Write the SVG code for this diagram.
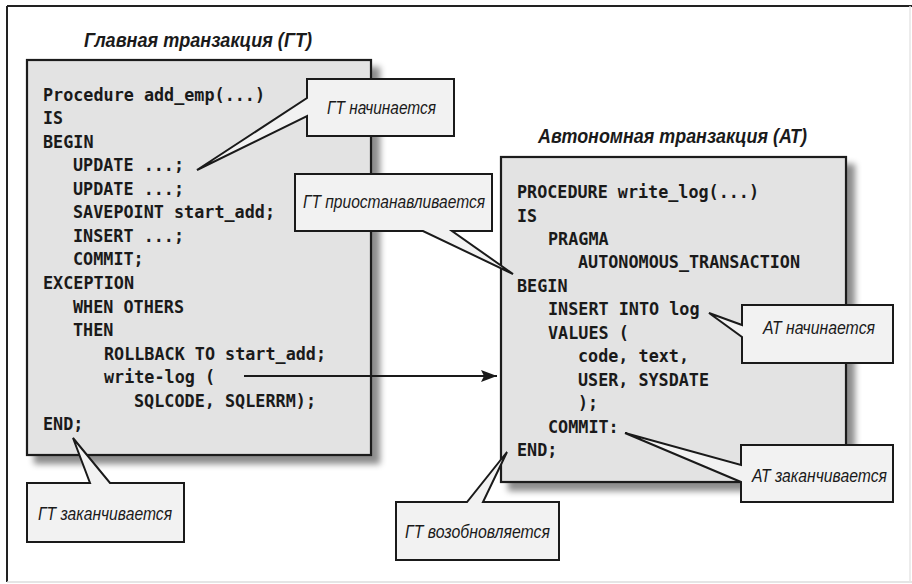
<svg xmlns="http://www.w3.org/2000/svg" width="912" height="584" viewBox="0 0 912 584">
<style>
.title{font-family:"Liberation Sans","DejaVu Sans",sans-serif;font-weight:bold;font-style:italic;font-size:20px;fill:#1a1a1a}
.code{font-family:"DejaVu Sans Mono","Liberation Mono",monospace;font-weight:bold;font-size:18px;fill:#1a1a1a}
.box{fill:#e3e3e3;stroke:#1a1a1a;stroke-width:2.2}
.call{fill:#f2f2f2;stroke:#1a1a1a;stroke-width:2;stroke-linejoin:miter}
.ctext{font-family:"Liberation Sans","DejaVu Sans",sans-serif;font-style:italic;font-size:18px;fill:#1a1a1a}
.conn{stroke:#1a1a1a;stroke-width:2;fill:none}
</style>
<defs>
<filter id="sh" x="-10%" y="-10%" width="130%" height="130%">
<feDropShadow dx="8" dy="8" stdDeviation="3" flood-color="#000" flood-opacity="0.45"/>
</filter>
<marker id="arr" viewBox="0 0 16 12" refX="16" refY="6" markerWidth="16" markerHeight="12" markerUnits="userSpaceOnUse" orient="auto">
<path d="M0,0 L16,6 L0,12 L3,6 Z" fill="#1a1a1a"/>
</marker>
</defs>
<rect width="912" height="584" fill="#ffffff"/>
<g id="frame">
<line x1="7" y1="6" x2="912" y2="6" stroke="#222" stroke-width="2"/>
<line x1="7" y1="6" x2="7" y2="582" stroke="#222" stroke-width="2"/>
<line x1="7" y1="582" x2="912" y2="582" stroke="#ddd" stroke-width="1.5"/>
<line x1="910" y1="6" x2="910" y2="582" stroke="#e6e6e6" stroke-width="1.5"/>
</g>

<g id="main-tx">
<text class="title" x="84" y="47" textLength="228" lengthAdjust="spacingAndGlyphs">Главная транзакция (ГТ)</text>
<rect class="box" x="27" y="60" width="344" height="395" filter="url(#sh)"/>
<g class="code">
<text x="43" y="101" textLength="222" lengthAdjust="spacingAndGlyphs">Procedure add_emp(...)</text>
<text x="43" y="124" textLength="20" lengthAdjust="spacingAndGlyphs">IS</text>
<text x="43" y="148" textLength="50.5" lengthAdjust="spacingAndGlyphs">BEGIN</text>
<text x="73" y="171" textLength="111" lengthAdjust="spacingAndGlyphs">UPDATE ...;</text>
<text x="73" y="195" textLength="111" lengthAdjust="spacingAndGlyphs">UPDATE ...;</text>
<text x="73" y="218" textLength="202" lengthAdjust="spacingAndGlyphs">SAVEPOINT start_add;</text>
<text x="73" y="242" textLength="111" lengthAdjust="spacingAndGlyphs">INSERT ...;</text>
<text x="73" y="265" textLength="70.7" lengthAdjust="spacingAndGlyphs">COMMIT;</text>
<text x="43" y="289" textLength="91" lengthAdjust="spacingAndGlyphs">EXCEPTION</text>
<text x="73" y="313" textLength="111" lengthAdjust="spacingAndGlyphs">WHEN OTHERS</text>
<text x="73" y="336" textLength="40.4" lengthAdjust="spacingAndGlyphs">THEN</text>
<text x="104" y="360" textLength="222" lengthAdjust="spacingAndGlyphs">ROLLBACK TO start_add;</text>
<text x="104" y="383" textLength="111" lengthAdjust="spacingAndGlyphs">write-log (</text>
<text x="134" y="407" textLength="182" lengthAdjust="spacingAndGlyphs">SQLCODE, SQLERRM);</text>
<text x="43" y="430" textLength="40.4" lengthAdjust="spacingAndGlyphs">END;</text>
</g>
</g>

<g id="auto-tx">
<text class="title" x="538" y="143" textLength="269" lengthAdjust="spacingAndGlyphs">Автономная транзакция (АТ)</text>
<rect class="box" x="501" y="157" width="345" height="325" filter="url(#sh)"/>
<g class="code">
<text x="517" y="198" textLength="242" lengthAdjust="spacingAndGlyphs">PROCEDURE write_log(...)</text>
<text x="517" y="222" textLength="20" lengthAdjust="spacingAndGlyphs">IS</text>
<text x="548" y="245" textLength="60.6" lengthAdjust="spacingAndGlyphs">PRAGMA</text>
<text x="578" y="268" textLength="222" lengthAdjust="spacingAndGlyphs">AUTONOMOUS_TRANSACTION</text>
<text x="517" y="292" textLength="50.5" lengthAdjust="spacingAndGlyphs">BEGIN</text>
<text x="548" y="315" textLength="151.5" lengthAdjust="spacingAndGlyphs">INSERT INTO log</text>
<text x="548" y="339" textLength="80.8" lengthAdjust="spacingAndGlyphs">VALUES (</text>
<text x="578" y="362" textLength="111" lengthAdjust="spacingAndGlyphs">code, text,</text>
<text x="578" y="386" textLength="131" lengthAdjust="spacingAndGlyphs">USER, SYSDATE</text>
<text x="578" y="409" textLength="20" lengthAdjust="spacingAndGlyphs">);</text>
<text x="548" y="433" textLength="70.7" lengthAdjust="spacingAndGlyphs">COMMIT:</text>
<text x="517" y="456" textLength="40.4" lengthAdjust="spacingAndGlyphs">END;</text>
</g>
</g>

<g id="connectors">
<line class="conn" x1="244" y1="376" x2="497" y2="376" marker-end="url(#arr)"/>
</g>

<g id="c-gt-start">
<path class="call" d="M307,79 H454 V136 H307 V116 L197,170 L307,98 Z"/>
<text class="ctext" x="327" y="114" textLength="109" lengthAdjust="spacingAndGlyphs">ГТ начинается</text>
</g>
<g id="c-gt-suspend">
<path class="call" d="M295,174 H492 V231 H452 L513,274 L423,231 H295 Z"/>
<text class="ctext" x="303" y="208" textLength="182" lengthAdjust="spacingAndGlyphs">ГТ приостанавливается</text>
</g>
<g id="c-at-start">
<path class="call" d="M742,305 H893 V363 H742 V337 L709,313 L742,325 Z"/>
<text class="ctext" x="763" y="334" textLength="112" lengthAdjust="spacingAndGlyphs">АТ начинается</text>
</g>
<g id="c-at-end">
<path class="call" d="M741,445 H893 V502 H741 V482 L625,433 L741,465 Z"/>
<text class="ctext" x="752" y="482" textLength="135" lengthAdjust="spacingAndGlyphs">АТ заканчивается</text>
</g>
<g id="c-gt-resume">
<path class="call" d="M396,502 H467 L507,452 L483,502 H559 V560 H396 Z"/>
<text class="ctext" x="405" y="538" textLength="145" lengthAdjust="spacingAndGlyphs">ГТ возобновляется</text>
</g>
<g id="c-gt-end">
<path class="call" d="M27,483 H90 L73,438 L110,483 H184 V542 H27 Z"/>
<text class="ctext" x="38" y="520" textLength="134" lengthAdjust="spacingAndGlyphs">ГТ заканчивается</text>
</g>
</svg>
